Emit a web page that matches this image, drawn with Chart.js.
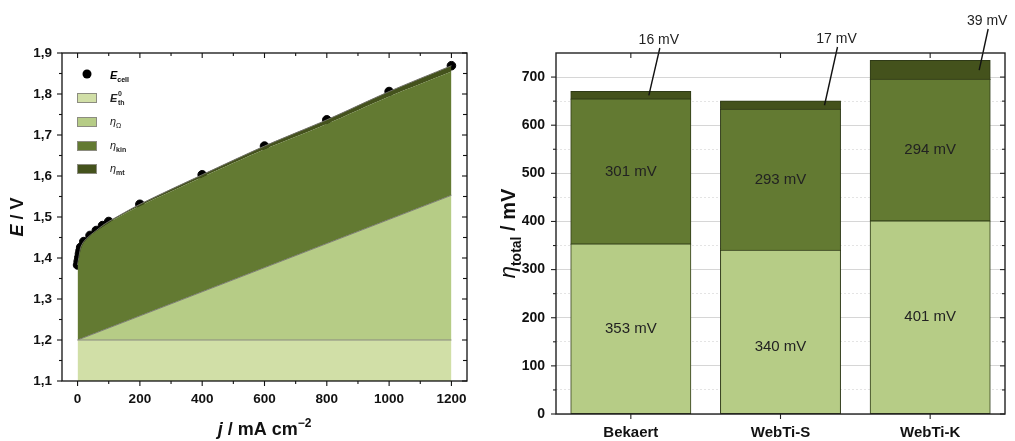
<!DOCTYPE html>
<html><head><meta charset="utf-8">
<script src="https://cdn.jsdelivr.net/npm/chart.js@4.4.1/dist/chart.umd.min.js"></script>
<style>
html,body{margin:0;padding:0;background:#fff;}
#wrap{position:relative;width:1015px;height:441px;overflow:hidden;}
.box{position:absolute;top:0;}
</style></head><body>
<div id="wrap">
<div class="box" style="left:0;width:490px;height:441px"><canvas id="c1" width="490" height="441"></canvas></div>
<div class="box" style="left:490px;width:525px;height:441px"><canvas id="c2" width="525" height="441"></canvas></div>
</div>
<script>
// ---------- left chart data ----------
const cellJ = [0, 2, 4, 6, 8, 10, 20, 40, 60, 80, 100, 200, 400, 600, 800, 1000, 1200];
const cellE = [1.383, 1.392, 1.401, 1.410, 1.418, 1.426, 1.440, 1.455, 1.467, 1.479, 1.489, 1.531, 1.603, 1.673, 1.737, 1.806, 1.869];
const thJ = [0, 1200];
const thE = [1.2, 1.2];
const ohmJ = [0, 1200];
const ohmE = [1.2, 1.553];
const kinJ = [0, 20, 100, 200, 400, 600, 800, 1000, 1200];
const kinE = [1.383, 1.438, 1.486, 1.527, 1.597, 1.665, 1.727, 1.794, 1.855];
const xTicksLeft = [0, 200, 400, 600, 800, 1000, 1200];
const yTicksLeft = [1.1, 1.2, 1.3, 1.4, 1.5, 1.6, 1.7, 1.8, 1.9];

// ---------- right chart data ----------
const categories = ['Bekaert', 'WebTi-S', 'WebTi-K'];
const etaOhm = [353, 340, 401];
const etaKin = [301, 293, 294];
const etaMt = [16, 17, 39];
const yTicksRight = [0, 100, 200, 300, 400, 500, 600, 700];

const FONT = '"Liberation Sans", Arial, sans-serif';
const C_TH = '#d1dfa7', C_OHM = '#b6cc86', C_KIN = '#637a32', C_MT = '#44521c';

const pts = (xs, ys) => xs.map((x, i) => ({x: x, y: ys[i]}));
const mids = arr => arr.slice(1).map((v, i) => (v + arr[i]) / 2);

function line(ctx, x1, y1, x2, y2) { ctx.beginPath(); ctx.moveTo(x1, y1); ctx.lineTo(x2, y2); ctx.stroke(); }
function ticksAt(ctx, scale, pixels, side, len, a) {
  pixels.forEach(p => {
    if (side === 'bottom') line(ctx, p, a.bottom, p, a.bottom + len);
    else if (side === 'top') line(ctx, p, a.top, p, a.top + len);
    else if (side === 'left') line(ctx, a.left, p, a.left - len, p);
    else line(ctx, a.right, p, a.right - len, p);
  });
}
// rich text: parts [{t, f, dy}], centered at x, baseline y
function rich(ctx, parts, x, y, align) {
  let w = 0;
  parts.forEach(p => { ctx.font = p.f; p.w = ctx.measureText(p.t).width; w += p.w + (p.gap || 0); });
  let cx = align === 'left' ? x : x - w / 2;
  ctx.textBaseline = 'alphabetic'; ctx.textAlign = 'left';
  parts.forEach(p => { ctx.font = p.f; ctx.fillText(p.t, cx, y + (p.dy || 0)); cx += p.w + (p.gap || 0); });
}

// ---------- left chart ----------
const leftDeco = {
  id: 'leftDeco',
  afterDraw(chart) {
    const ctx = chart.ctx, a = chart.chartArea, xs = chart.scales.x, ys = chart.scales.y;
    ctx.save();
    ctx.strokeStyle = '#111'; ctx.lineWidth = 1.3;
    ctx.strokeRect(a.left, a.top, a.right - a.left, a.bottom - a.top);
    ctx.lineWidth = 1.1;
    const xM = xTicksLeft.map(v => xs.getPixelForValue(v));
    const xm = mids(xTicksLeft).map(v => xs.getPixelForValue(v));
    const yM = yTicksLeft.map(v => ys.getPixelForValue(v));
    const ym = mids(yTicksLeft).map(v => ys.getPixelForValue(v));
    ticksAt(ctx, xs, xM, 'bottom', 5, a); ticksAt(ctx, xs, xm, 'bottom', 3, a);
    ticksAt(ctx, xs, xM, 'top', 5, a); ticksAt(ctx, xs, xm, 'top', 3, a);
    ticksAt(ctx, ys, yM, 'left', 5, a); ticksAt(ctx, ys, ym, 'left', 3, a);
    ticksAt(ctx, ys, yM, 'right', 5, a); ticksAt(ctx, ys, ym, 'right', 4, a);
    // titles
    ctx.fillStyle = '#111';
    rich(ctx, [{t: 'j', f: 'italic bold 18px ' + FONT}, {t: ' / mA cm', f: 'bold 18px ' + FONT},
               {t: '\u22122', f: 'bold 12px ' + FONT, dy: -8}], (a.left + a.right) / 2, 435);
    ctx.save(); ctx.translate(23, (a.top + a.bottom) / 2); ctx.rotate(-Math.PI / 2);
    rich(ctx, [{t: 'E', f: 'italic bold 18px ' + FONT}, {t: ' / V', f: 'bold 18px ' + FONT}], 0, 0);
    ctx.restore();
    // legend
    ctx.fillStyle = '#000';
    ctx.beginPath(); ctx.arc(87, 74, 4.5, 0, Math.PI * 2); ctx.fill();
    rich(ctx, [{t: 'E', f: 'italic bold 11px ' + FONT}, {t: 'cell', f: 'bold 7px ' + FONT, dy: 3}], 110, 79, 'left');
    const rows = [[C_TH, 98], [C_OHM, 122], [C_KIN, 146], [C_MT, 169]];
    ctx.lineWidth = 1; ctx.strokeStyle = '#8c8c80';
    rows.forEach(r => { ctx.fillStyle = r[0]; ctx.fillRect(77, r[1] - 5, 20, 10); ctx.strokeRect(77.5, r[1] - 4.5, 19, 9); });
    ctx.fillStyle = '#222';
    rich(ctx, [{t: 'E', f: 'italic bold 11px ' + FONT}], 110, 102, 'left');
    ctx.font = 'bold 7px ' + FONT; ctx.fillText('0', 118, 96); ctx.fillText('th', 118, 105);
    rich(ctx, [{t: '\u03b7', f: 'italic 11px ' + FONT}, {t: '\u03a9', f: '7px ' + FONT, dy: 3}], 110, 125, 'left');
    rich(ctx, [{t: '\u03b7', f: 'italic 11px ' + FONT}, {t: 'kin', f: 'bold 7px ' + FONT, dy: 3}], 110, 149, 'left');
    rich(ctx, [{t: '\u03b7', f: 'italic 11px ' + FONT}, {t: 'mt', f: 'bold 7px ' + FONT, dy: 3}], 110, 172, 'left');
    ctx.restore();
  }
};

new Chart(document.getElementById('c1'), {
  type: 'scatter',
  data: {datasets: [
    {label: 'Eth', data: pts(thJ, thE), showLine: true, fill: 'start', backgroundColor: C_TH, borderColor: '#8a8a80', borderWidth: 1, pointRadius: 0},
    {label: 'ohm', data: pts(ohmJ, ohmE), showLine: true, fill: '-1', backgroundColor: C_OHM, borderColor: '#7c7c72', borderWidth: 1, pointRadius: 0},
    {label: 'kin', data: pts(kinJ, kinE), showLine: true, fill: '-1', backgroundColor: C_KIN, borderColor: C_KIN, borderWidth: 0, pointRadius: 0, tension: 0.3},
    {label: 'mt', data: pts(cellJ, cellE), showLine: true, fill: '-1', backgroundColor: C_MT, borderColor: '#6f6f66', borderWidth: 1, pointRadius: 0, tension: 0.3},
    {label: 'Ecell', data: pts(cellJ, cellE), showLine: false, pointRadius: 4.3, pointBackgroundColor: '#000', pointBorderColor: '#000'}
  ]},
  options: {
    responsive: false, animation: false, devicePixelRatio: 1,
    layout: {padding: {top: 53, right: 23, left: 0, bottom: 0}},
    plugins: {legend: {display: false}, tooltip: {enabled: false}},
    scales: {
      x: {type: 'linear', min: -50, max: 1250,
          afterBuildTicks: s => { s.ticks = xTicksLeft.map(v => ({value: v})); },
          afterFit: s => { s.height = 60; },
          grid: {display: false, drawTicks: false}, border: {display: false},
          ticks: {padding: 10, maxRotation: 0, autoSkip: false, color: '#111', font: {family: FONT, size: 13.5, weight: 'bold'},
                  callback: v => String(v)}},
      y: {type: 'linear', min: 1.1, max: 1.9,
          afterBuildTicks: s => { s.ticks = yTicksLeft.map(v => ({value: v})); },
          afterFit: s => { s.width = 62; },
          grid: {display: false, drawTicks: false}, border: {display: false},
          ticks: {padding: 10, color: '#111', font: {family: FONT, size: 13.5, weight: 'bold'},
                  callback: v => v.toFixed(1).replace('.', ',')}}
    }
  },
  plugins: [leftDeco]
});

// ---------- right chart ----------
const calloutCfg = [{ex: 18, tx: 28, ty: 44}, {ex: 44, tx: 56, ty: 43}, {ex: 49, tx: 57, ty: 25}];
const labelShift = [[0, 0], [15, 0], [0, 0]];
const rightDeco = {
  id: 'rightDeco',
  afterDatasetsDraw(chart) {
    const ctx = chart.ctx;
    ctx.save();
    ctx.fillStyle = '#222'; ctx.font = '15px ' + FONT; ctx.textAlign = 'center'; ctx.textBaseline = 'middle';
    [0, 1].forEach(di => {
      const ds = chart.data.datasets[di];
      chart.getDatasetMeta(di).data.forEach((bar, i) => {
        ctx.fillText(ds.data[i] + ' mV', bar.x, (bar.y + bar.base) / 2 + labelShift[i][di]);
      });
    });
    const mt = chart.data.datasets[2];
    ctx.strokeStyle = '#111'; ctx.lineWidth = 1.4; ctx.font = '14px ' + FONT;
    chart.getDatasetMeta(2).data.forEach((bar, i) => {
      const c = calloutCfg[i];
      const ey = (bar.y + bar.base) / 2;
      line(ctx, bar.x + c.tx + 1, c.ty + 4, bar.x + c.ex, ey);
      ctx.textBaseline = 'alphabetic';
      ctx.fillText(mt.data[i] + ' mV', bar.x + c.tx, c.ty);
    });
    ctx.restore();
  },
  afterDraw(chart) {
    const ctx = chart.ctx, a = chart.chartArea, xs = chart.scales.x, ys = chart.scales.y;
    ctx.save();
    ctx.strokeStyle = '#222'; ctx.lineWidth = 1.4;
    ctx.strokeRect(a.left, a.top, a.right - a.left, a.bottom - a.top);
    ctx.lineWidth = 1.1;
    const yM = yTicksRight.map(v => ys.getPixelForValue(v));
    const ym = mids(yTicksRight.concat([800])).map(v => ys.getPixelForValue(v)).filter(p => p > a.top + 1);
    const xc = categories.map((c, i) => xs.getPixelForValue(i));
    ticksAt(ctx, ys, yM, 'left', 5, a); ticksAt(ctx, ys, ym, 'left', 3, a);
    ticksAt(ctx, ys, yM, 'right', 5, a); ticksAt(ctx, ys, ym, 'right', 3, a);
    ticksAt(ctx, xs, xc, 'bottom', 5, a); ticksAt(ctx, xs, xc, 'top', 5, a);
    ctx.fillStyle = '#111';
    ctx.translate(25, (a.top + a.bottom) / 2); ctx.rotate(-Math.PI / 2);
    rich(ctx, [{t: '\u03b7', f: 'italic 22px ' + FONT}, {t: 'total', f: 'bold 14px ' + FONT, dy: 6},
               {t: ' / mV', f: 'bold 20px ' + FONT}], 0, 0);
    ctx.restore();
  }
};

const barStyle = {borderWidth: 1, borderColor: '#2f3a17', borderSkipped: false, inflateAmount: 0.6, barPercentage: 0.8, categoryPercentage: 1.0};
new Chart(document.getElementById('c2'), {
  type: 'bar',
  data: {labels: categories, datasets: [
    Object.assign({label: 'ohm', data: etaOhm, backgroundColor: C_OHM}, barStyle),
    Object.assign({label: 'kin', data: etaKin, backgroundColor: C_KIN}, barStyle),
    Object.assign({label: 'mt', data: etaMt, backgroundColor: C_MT}, barStyle)
  ]},
  options: {
    responsive: false, animation: false, devicePixelRatio: 1,
    layout: {padding: {top: 53, right: 10, left: 0, bottom: 0}},
    plugins: {legend: {display: false}, tooltip: {enabled: false}},
    scales: {
      x: {stacked: true, afterFit: s => { s.height = 27; },
          grid: {display: false, drawTicks: false}, border: {display: false},
          ticks: {padding: 10, color: '#111', font: {family: FONT, size: 15, weight: 'bold'}}},
      y: {stacked: true, min: 0, max: 750,
          afterBuildTicks: s => { s.ticks = yTicksRight.map(v => ({value: v})); },
          afterFit: s => { s.width = 66; },
          grid: {color: '#d6d6d6', lineWidth: 1, drawTicks: false}, border: {display: false},
          ticks: {padding: 11, color: '#111', font: {family: FONT, size: 14, weight: 'bold'}}},
      yMinor: {position: 'left', min: 0, max: 750, display: true,
          afterBuildTicks: s => { s.ticks = mids(yTicksRight.concat([800])).filter(v => v < 750).map(v => ({value: v})); },
          afterFit: s => { s.width = 0; },
          grid: {color: '#e4e4e4', lineWidth: 1, drawTicks: false}, border: {display: false, dash: [2, 2]},
          ticks: {display: false}}
    }
  },
  plugins: [rightDeco]
});
</script>
</body></html>
